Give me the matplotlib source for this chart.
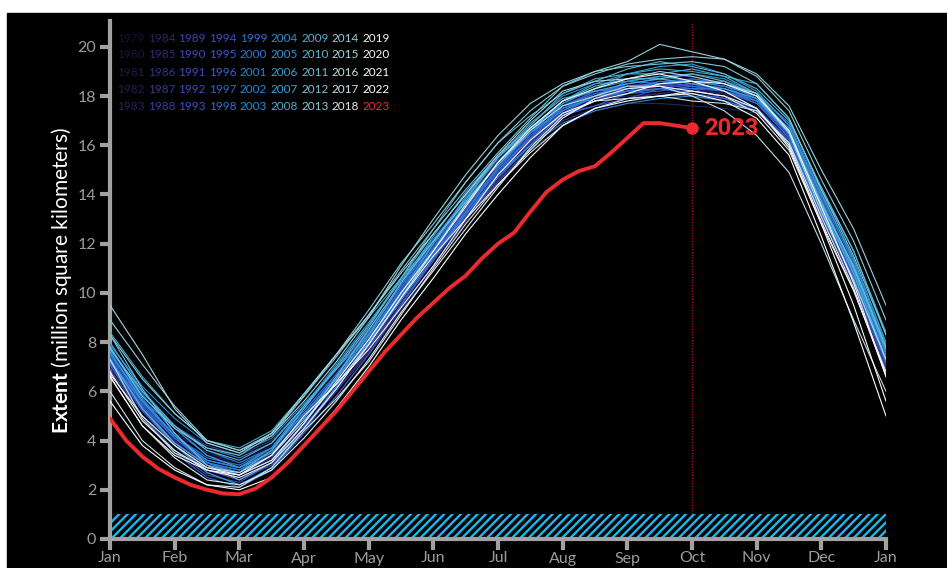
# Antarctic sea ice extent, 1979-2023, spaghetti chart on black

import matplotlib.pyplot as plt
import numpy as np
from matplotlib.colors import LinearSegmentedColormap
from matplotlib.patches import Rectangle

plt.rcParams["font.family"] = ["Lato", "DejaVu Sans"]
plt.rcParams["mathtext.fontset"] = "custom"
plt.rcParams["mathtext.bf"] = "Lato:bold"
plt.rcParams["mathtext.rm"] = "Lato"
plt.rcParams["hatch.linewidth"] = 1.7

# x positions in months (Jan 1 = 0, Jan 15 = 0.5, ... next Jan 1 = 12)
month_labels = ["Jan", "Feb", "Mar", "Apr", "May", "Jun", "Jul",
                "Aug", "Sep", "Oct", "Nov", "Dec", "Jan"]
steps = np.arange(25) / 2

# extent in million km2, one row per year 1979..2022, half-month steps
past_years = list(range(1979, 2023))
past_extent = [
    [7.3, 5.7, 4.4, 3.4, 3.0, 3.5, 4.7, 6.0, 7.6, 9.5, 11.5, 13.4, 14.9, 16.0, 17.1, 17.8, 18.4, 18.4, 18.5, 18.1, 17.8, 16.5, 13.6, 10.8, 7.5],
    [7.5, 5.4, 4.0, 3.1, 2.8, 3.6, 5.2, 6.8, 8.3, 9.9, 11.5, 13.1, 14.9, 16.5, 17.7, 18.0, 18.2, 18.7, 18.7, 18.2, 17.6, 16.2, 13.1, 10.3, 7.0],
    [7.0, 5.3, 4.1, 3.4, 3.1, 3.8, 5.0, 6.4, 7.9, 9.8, 11.8, 13.7, 15.1, 16.1, 17.3, 18.1, 18.4, 18.4, 18.5, 18.3, 17.8, 16.5, 13.7, 11.1, 7.6],
    [7.6, 5.6, 4.0, 2.9, 2.5, 3.0, 4.3, 5.8, 7.5, 9.5, 11.3, 13.0, 14.5, 16.0, 17.3, 17.9, 18.0, 18.1, 18.3, 18.1, 17.4, 16.0, 13.2, 10.6, 7.1],
    [7.1, 5.5, 4.3, 3.5, 3.1, 3.7, 5.0, 6.1, 7.5, 9.2, 11.0, 12.9, 14.6, 15.8, 16.8, 17.4, 17.7, 17.7, 17.6, 17.5, 17.3, 16.0, 13.1, 10.3, 7.0],
    [7.0, 5.2, 3.9, 3.0, 2.6, 3.3, 4.9, 6.6, 8.3, 10.1, 11.7, 13.3, 14.8, 16.2, 17.6, 18.2, 18.5, 18.4, 18.2, 18.1, 17.8, 16.4, 13.3, 10.7, 7.4],
    [7.4, 5.6, 4.0, 2.8, 2.4, 3.1, 4.5, 6.0, 7.7, 9.8, 11.9, 13.8, 15.4, 16.6, 17.6, 18.0, 18.3, 18.8, 18.8, 18.5, 17.9, 16.7, 14.0, 11.3, 7.9],
    [7.9, 6.1, 4.6, 3.4, 2.8, 3.3, 4.6, 6.0, 7.6, 9.3, 11.1, 12.9, 14.7, 16.1, 17.0, 17.5, 17.9, 18.1, 18.0, 17.8, 17.4, 16.3, 13.5, 11.0, 7.7],
    [7.7, 5.8, 4.6, 3.8, 3.4, 4.0, 5.4, 6.9, 8.4, 10.1, 11.6, 13.1, 14.6, 16.1, 17.4, 18.1, 18.4, 18.4, 18.4, 18.4, 18.0, 16.7, 13.8, 11.0, 7.6],
    [7.6, 5.5, 4.1, 3.2, 2.9, 3.6, 5.1, 6.5, 8.0, 10.0, 12.0, 13.9, 15.4, 16.4, 17.3, 17.8, 18.2, 18.4, 18.1, 17.9, 17.5, 16.1, 13.1, 10.4, 7.1],
    [7.1, 5.2, 3.9, 3.0, 2.7, 3.5, 5.0, 6.3, 7.8, 9.7, 11.6, 13.4, 15.1, 16.4, 17.4, 18.0, 18.5, 18.7, 18.5, 18.6, 18.1, 16.8, 13.9, 11.2, 7.5],
    [7.5, 5.6, 4.1, 3.0, 2.6, 3.2, 4.6, 6.1, 7.9, 9.9, 11.6, 13.1, 14.5, 15.9, 17.2, 17.9, 18.2, 18.3, 18.5, 18.3, 17.8, 16.3, 13.4, 10.8, 7.3],
    [7.3, 5.3, 3.9, 3.0, 2.6, 3.4, 5.0, 6.5, 8.0, 9.6, 11.3, 13.1, 14.9, 16.3, 17.3, 17.6, 17.9, 18.3, 18.3, 17.9, 17.4, 16.0, 13.0, 10.4, 6.9],
    [6.9, 5.0, 3.6, 2.6, 2.3, 3.1, 4.7, 6.3, 7.8, 9.5, 11.3, 13.3, 15.1, 16.3, 17.2, 17.8, 18.3, 18.5, 18.3, 18.2, 17.8, 16.4, 13.5, 10.7, 7.2],
    [7.2, 5.2, 3.8, 2.8, 2.4, 3.0, 4.5, 6.2, 8.1, 10.1, 11.9, 13.5, 14.9, 16.2, 17.5, 18.2, 18.4, 18.4, 18.6, 18.4, 17.8, 16.4, 13.6, 11.0, 7.6],
    [7.6, 5.7, 4.2, 3.1, 2.7, 3.4, 5.0, 6.7, 8.4, 10.2, 11.8, 13.4, 14.9, 16.4, 17.6, 18.2, 18.4, 18.5, 18.7, 18.5, 17.9, 16.4, 13.5, 10.9, 7.5],
    [7.5, 5.5, 4.1, 3.2, 2.9, 3.7, 5.3, 6.9, 8.5, 10.3, 12.1, 13.9, 15.5, 16.7, 17.5, 18.0, 18.5, 18.7, 18.5, 18.2, 17.7, 16.5, 13.6, 10.8, 7.4],
    [7.4, 5.4, 3.9, 2.7, 2.2, 2.8, 4.4, 6.1, 7.9, 9.9, 11.7, 13.3, 14.8, 16.2, 17.5, 18.0, 18.1, 18.2, 18.4, 18.2, 17.5, 16.1, 13.2, 10.5, 7.1],
    [7.1, 5.0, 3.5, 2.5, 2.1, 2.8, 4.3, 5.8, 7.5, 9.5, 11.4, 13.3, 15.0, 16.3, 17.2, 17.6, 18.1, 18.3, 18.1, 17.9, 17.5, 16.2, 13.3, 10.6, 7.2],
    [7.2, 5.4, 4.1, 3.1, 2.8, 3.4, 4.9, 6.5, 8.4, 10.3, 12.0, 13.5, 15.1, 16.6, 17.8, 18.2, 18.3, 18.5, 18.7, 18.5, 17.9, 16.7, 13.9, 11.2, 7.8],
    [7.8, 5.9, 4.3, 3.1, 2.6, 3.2, 4.7, 6.4, 8.2, 10.2, 12.0, 13.6, 15.0, 16.3, 17.6, 18.1, 18.3, 18.6, 18.4, 18.2, 17.7, 16.3, 13.4, 10.9, 7.6],
    [7.6, 5.6, 4.2, 3.3, 3.0, 3.7, 5.2, 6.7, 8.2, 9.8, 11.5, 13.3, 15.1, 16.5, 17.5, 17.9, 18.2, 18.6, 18.6, 18.2, 17.8, 16.7, 13.8, 11.0, 7.5],
    [7.5, 5.8, 4.6, 3.6, 3.1, 3.7, 5.1, 6.5, 8.1, 9.9, 11.6, 13.2, 14.7, 16.0, 17.3, 18.0, 18.2, 18.3, 18.3, 18.3, 17.8, 16.5, 13.6, 11.0, 7.8],
    [7.8, 5.7, 4.2, 3.1, 2.8, 3.6, 5.1, 6.6, 8.0, 9.7, 11.4, 13.2, 14.8, 16.0, 16.9, 17.4, 17.7, 17.9, 18.0, 17.8, 17.4, 16.1, 13.3, 10.6, 7.2],
    [7.2, 5.6, 4.6, 3.7, 3.3, 3.9, 5.4, 7.0, 8.7, 10.5, 12.2, 13.8, 15.2, 16.5, 17.7, 18.3, 18.6, 18.5, 18.6, 18.6, 18.1, 16.9, 14.1, 11.3, 7.9],
    [7.9, 6.2, 4.9, 3.9, 3.5, 4.1, 5.5, 6.9, 8.3, 10.0, 11.8, 13.6, 15.3, 16.5, 17.4, 18.0, 18.6, 18.8, 18.6, 18.4, 18.0, 16.6, 13.6, 10.9, 7.6],
    [7.6, 5.6, 4.2, 3.2, 2.9, 3.7, 5.4, 7.1, 8.8, 10.5, 12.1, 13.7, 15.3, 16.8, 18.0, 18.5, 18.6, 18.8, 18.9, 18.7, 18.1, 16.6, 13.5, 10.8, 7.3],
    [7.3, 5.3, 3.8, 2.7, 2.2, 2.9, 4.5, 6.2, 8.0, 10.0, 12.0, 13.9, 15.5, 16.7, 17.7, 18.3, 18.9, 19.2, 19.3, 18.9, 18.2, 16.8, 14.0, 11.4, 8.0],
    [8.0, 6.0, 4.5, 3.4, 2.9, 3.5, 4.9, 6.5, 8.3, 10.4, 12.3, 14.1, 15.6, 16.7, 17.8, 18.5, 18.9, 19.1, 19.0, 18.8, 18.5, 17.1, 14.2, 11.7, 8.4],
    [8.4, 6.6, 5.1, 4.0, 3.7, 4.4, 5.9, 7.5, 9.0, 10.6, 12.1, 13.8, 15.5, 16.9, 17.9, 18.2, 18.5, 18.7, 18.5, 18.3, 17.9, 16.5, 13.5, 10.8, 7.3],
    [7.3, 5.3, 3.9, 3.0, 2.7, 3.6, 5.3, 7.0, 8.7, 10.6, 12.4, 14.0, 15.5, 16.8, 18.1, 18.7, 18.9, 18.9, 19.1, 18.8, 18.1, 16.6, 13.7, 11.0, 7.7],
    [7.7, 6.0, 4.6, 3.6, 3.2, 3.9, 5.4, 6.9, 8.6, 10.6, 12.6, 14.5, 16.1, 17.2, 18.1, 18.6, 19.1, 19.4, 19.2, 18.9, 18.3, 17.0, 14.3, 11.7, 8.3],
    [8.3, 6.1, 4.3, 3.0, 2.4, 3.1, 4.7, 6.6, 8.5, 10.4, 12.1, 13.7, 15.2, 16.6, 17.8, 18.4, 18.7, 18.7, 18.9, 18.6, 18.0, 16.5, 13.6, 11.1, 7.8],
    [7.8, 5.8, 4.5, 3.7, 3.4, 4.2, 5.8, 7.4, 9.1, 10.9, 12.6, 14.2, 15.7, 17.1, 18.4, 19.0, 19.2, 19.3, 19.4, 19.2, 18.5, 17.1, 14.2, 11.5, 8.3],
    [8.3, 6.5, 5.1, 4.0, 3.6, 4.3, 5.8, 7.5, 9.3, 11.2, 12.8, 14.5, 16.1, 17.4, 18.4, 18.9, 19.3, 19.5, 19.6, 19.5, 18.8, 17.4, 14.6, 12.1, 8.9],
    [8.9, 7.1, 5.4, 4.0, 3.6, 4.2, 5.6, 7.2, 9.0, 11.1, 13.0, 14.8, 16.4, 17.7, 18.5, 19.0, 19.4, 20.1, 19.8, 19.5, 18.9, 17.6, 15.0, 12.6, 9.5],
    [9.5, 7.5, 5.3, 3.9, 3.5, 4.3, 5.9, 7.5, 9.1, 10.8, 12.4, 14.0, 15.6, 17.0, 18.2, 18.6, 18.7, 19.0, 18.8, 18.5, 18.1, 16.5, 13.3, 10.5, 7.3],
    [7.3, 4.9, 3.5, 2.9, 2.7, 3.4, 4.8, 6.3, 7.9, 9.8, 11.7, 13.6, 15.3, 16.6, 17.6, 18.0, 18.4, 18.4, 18.0, 17.4, 16.4, 14.9, 12.0, 8.9, 6.0],
    [6.0, 4.0, 2.9, 2.2, 2.1, 2.9, 4.4, 5.7, 7.2, 9.1, 11.0, 12.8, 14.4, 15.7, 16.8, 17.5, 17.9, 18.0, 17.8, 17.7, 17.4, 16.1, 13.1, 10.2, 6.6],
    [6.6, 4.6, 3.3, 2.4, 2.2, 2.8, 4.1, 5.6, 7.3, 9.2, 10.9, 12.6, 14.3, 15.9, 17.2, 17.8, 17.9, 18.0, 18.2, 18.0, 17.3, 15.8, 12.8, 10.1, 6.8],
    [6.8, 4.8, 3.6, 2.8, 2.5, 3.1, 4.5, 6.1, 7.9, 9.8, 11.5, 13.0, 14.4, 15.8, 17.1, 17.9, 18.3, 18.4, 18.2, 18.0, 17.5, 16.0, 12.9, 10.1, 6.7],
    [6.7, 5.0, 3.8, 2.9, 2.6, 3.2, 4.7, 6.4, 8.1, 10.0, 11.7, 13.5, 15.3, 16.7, 17.8, 18.3, 18.7, 18.9, 18.6, 18.5, 18.0, 16.6, 13.5, 10.4, 6.6],
    [6.6, 4.6, 3.4, 2.8, 2.6, 3.4, 5.0, 6.3, 7.7, 9.4, 11.1, 13.0, 14.8, 16.2, 17.3, 17.8, 18.1, 18.5, 18.6, 18.2, 17.5, 15.9, 12.8, 9.5, 5.6],
    [5.6, 3.8, 2.8, 2.2, 2.0, 2.5, 3.8, 5.3, 7.0, 8.9, 10.6, 12.4, 14.0, 15.5, 16.8, 17.5, 17.8, 18.0, 18.1, 17.8, 17.1, 15.6, 12.3, 8.8, 5.0],
]

# 2023 so far, quarter-month steps (Jan 1 .. Oct 1)
steps_2023 = np.arange(37) / 4
extent_2023 = [4.9, 4.0, 3.35, 2.85, 2.5, 2.2, 2.0, 1.85, 1.82, 2.05,
               2.5, 3.1, 3.8, 4.5, 5.2, 6.0, 6.8, 7.6, 8.3, 9.0,
               9.6, 10.2, 10.7, 11.4, 12.0, 12.45, 13.3, 14.1, 14.6, 14.95,
               15.15, 15.7, 16.3, 16.9, 16.9, 16.8, 16.7]

# year colour ramp anchors
ramp = [(0.0, "#14143a"), (0.12, "#2b2b6c"), (0.24, "#4343b6"), (0.36, "#3a55cc"),
        (0.48, "#2c78d8"), (0.60, "#2898d8"), (0.72, "#5cb7d0"), (0.84, "#a8d8de"),
        (0.93, "#f2f2f2"), (1.0, "#ffffff")]
cmap = LinearSegmentedColormap.from_list("ice", ramp)
red = "#ec2a2e"
grey = "#a2a2a2"


def year_color(y):
    return cmap((y - 1979) / (2022 - 1979))


fig = plt.figure(figsize=(9.47, 5.68), dpi=100, facecolor="white")
fig.patches.append(Rectangle((7 / 947, 0), 940 / 947, 555 / 568,
                             transform=fig.transFigure, color="black", zorder=-5))
ax = fig.add_axes([110 / 947, 29 / 568, 776 / 947, 518 / 568])
ax.set_facecolor("black")

for y, vals in zip(past_years, past_extent):
    ax.plot(steps, vals, color=year_color(y), lw=0.8, zorder=3)

ax.plot(steps_2023, extent_2023, color=red, lw=2.8, zorder=5,
        solid_capstyle="round", solid_joinstyle="round")
ax.plot(steps_2023[-1], extent_2023[-1], "o", color=red, ms=8, zorder=6)
ax.text(steps_2023[-1] + 0.18, extent_2023[-1], "2023", color=red, fontsize=17,
        fontfamily="Roboto", fontweight="bold", va="center", ha="left", zorder=6)
ax.plot([steps_2023[-1], steps_2023[-1]], [1, 21], color="#b01818", lw=0.9,
        ls=(0, (1, 1.2)), zorder=2)

# hatched strip along the bottom
ax.axhspan(0, 1, xmin=0, xmax=1, facecolor="black", edgecolor="#1cb8ec",
           hatch="////", linewidth=0, zorder=2)

ax.set_xlim(0, 12)
ax.set_ylim(0, 21.05)
ax.set_xticks(range(13))
ax.set_xticklabels(month_labels)
ax.set_yticks(range(0, 21, 2))

for side in ["top", "right"]:
    ax.spines[side].set_visible(False)
for side in ["left", "bottom"]:
    ax.spines[side].set_color(grey)
    ax.spines[side].set_linewidth(3)
ax.tick_params(axis="x", colors=grey, length=8, width=3, pad=1, labelsize=11.5)
ax.tick_params(axis="y", colors=grey, length=7, width=3, pad=3, labelsize=11.5)
for lab in ax.get_xticklabels() + ax.get_yticklabels():
    lab.set_color("#9c9c9c")

ax.set_ylabel(r"$\mathbf{Extent}$ (million square kilometers)", color="white", fontsize=15)
ax.yaxis.set_label_coords(-0.047, 0.5)

# year legend, 9 columns x 5 rows
for col in range(9):
    for row in range(5):
        yr = 1979 + col * 5 + row
        c = red if yr == 2023 else year_color(yr)
        fig.text((117 + col * 30.7) / 947, 1 - (38 + row * 17) / 568, str(yr),
                 color=c, fontsize=8.5, ha="left", va="center")

plt.savefig("out.png", dpi=100, facecolor="white")
